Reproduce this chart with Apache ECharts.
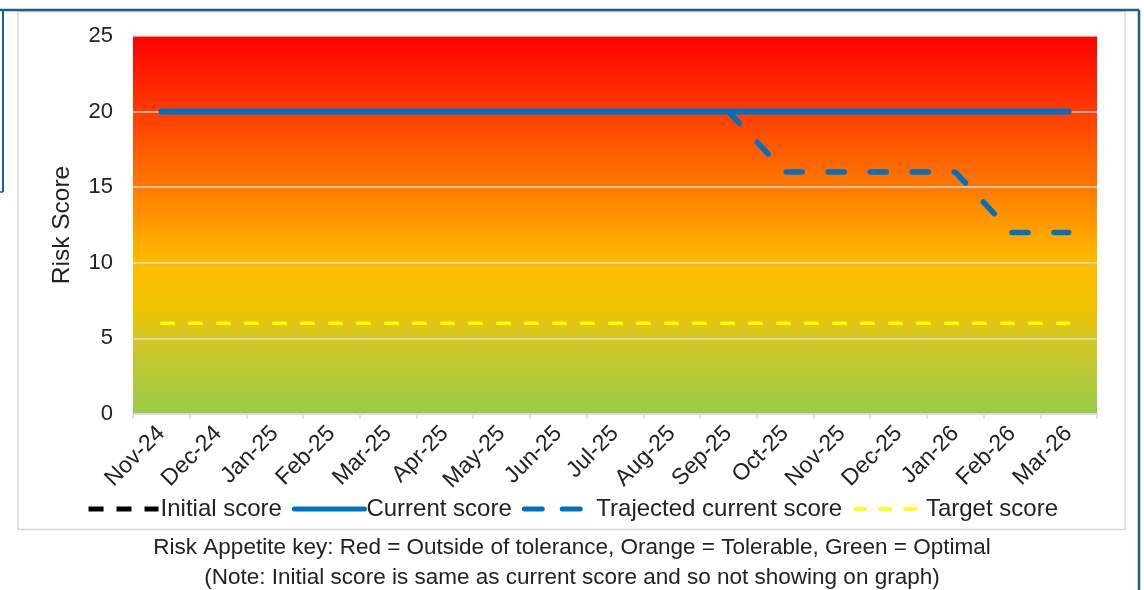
<!DOCTYPE html>
<html>
<head>
<meta charset="utf-8">
<script src="https://cdn.jsdelivr.net/npm/echarts@6/dist/echarts.min.js"></script>
<style>
html,body{margin:0;padding:0;background:#fff;}
#c{width:1144px;height:590px;}
</style>
</head>
<body>
<div id="c"></div>
<script>
var categories = ['Nov-24','Dec-24','Jan-25','Feb-25','Mar-25','Apr-25','May-25','Jun-25','Jul-25','Aug-25','Sep-25','Oct-25','Nov-25','Dec-25','Jan-26','Feb-26','Mar-26'];
var initialScore = [20,20,20,20,20,20,20,20,20,20,20,20,20,20,20,20,20];
var currentScore = [20,20,20,20,20,20,20,20,20,20,20,20,20,20,20,20,20];
var trajectedScore = [null,null,null,null,null,null,null,null,null,null,20,16,16,16,16,12,12];
var targetScore = [6,6,6,6,6,6,6,6,6,6,6,6,6,6,6,6,6];
var yTicks = [0,5,10,15,20,25];
var noteLines = ['Risk Appetite key: Red = Outside of tolerance, Orange = Tolerable, Green = Optimal',
                 '(Note: Initial score is same as current score and so not showing on graph)'];

var chart = echarts.init(document.getElementById('c'));
var font = '"Liberation Sans", Arial, sans-serif';
var frame = '#1d5f86';
chart.setOption({
  animation: false,
  backgroundColor: '#fff',
  grid: {
    left: 133, right: 47, top: 36, bottom: 176,
    show: true, borderWidth: 0,
    backgroundColor: {
      type: 'linear', x: 0, y: 0, x2: 0, y2: 1,
      colorStops: [
        {offset: 0, color: '#ff0000'},
        {offset: 0.2, color: '#ff3c00'},
        {offset: 0.4, color: '#ff7a00'},
        {offset: 0.6, color: '#ffbc00'},
        {offset: 0.72, color: '#f0c300'},
        {offset: 0.82, color: '#cdc72a'},
        {offset: 1, color: '#98cc48'}
      ]
    }
  },
  legend: {
    bottom: 64, left: 'center',
    itemWidth: 70, itemHeight: 14, itemGap: 10,
    itemStyle: {opacity: 0},
    textStyle: {fontFamily: font, fontSize: 24, color: '#222', padding: [0,0,0,-3]},
    data: [
      {name: 'Initial score', lineStyle: {color: '#000', width: 5, type: [15, 13], cap: 'butt'}},
      {name: 'Current score', lineStyle: {color: '#0070c0', width: 5, type: 'solid', cap: 'round'}},
      {name: 'Trajected current score', lineStyle: {color: '#0070c0', width: 5, type: [18, 20], cap: 'round'}},
      {name: 'Target score', lineStyle: {color: '#ffff00', width: 3.5, type: [13, 12], cap: 'butt'}}
    ]
  },
  xAxis: {
    type: 'category', data: categories, boundaryGap: true,
    axisLine: {lineStyle: {color: '#d9d9d9', width: 1.5}},
    axisTick: {show: true, length: 5, lineStyle: {color: '#d9d9d9', width: 1.5}},
    axisLabel: {rotate: 45, fontFamily: font, fontSize: 23, color: '#222', margin: 16, interval: 0}
  },
  yAxis: {
    type: 'value', min: 0, max: 25, interval: 5,
    name: 'Risk Score', nameLocation: 'middle', nameGap: 58,
    nameTextStyle: {fontFamily: font, fontSize: 24.5, color: '#222'},
    axisLine: {show: false}, axisTick: {show: false},
    axisLabel: {fontFamily: font, fontSize: 22, color: '#222', margin: 20,
      formatter: function(v){ return yTicks.indexOf(v) >= 0 ? String(v) : ''; }},
    splitLine: {lineStyle: {color: 'rgba(225,225,225,0.9)', width: 1.5}}
  },
  series: [
    {name: 'Initial score', type: 'line', data: initialScore, symbol: 'none', z: 2,
     lineStyle: {color: '#000', width: 4.5, type: [14, 18], cap: 'butt'}, itemStyle: {color: '#000'}},
    {name: 'Current score', type: 'line', data: currentScore, symbol: 'none', z: 3,
     lineStyle: {color: '#0070c0', width: 6, cap: 'round'}, itemStyle: {color: '#0070c0'}},
    {name: 'Trajected current score', type: 'line', data: trajectedScore, symbol: 'none', z: 4,
     lineStyle: {color: '#0070c0', width: 5.5, type: [16, 26], cap: 'round'}, itemStyle: {color: '#0070c0'}},
    {name: 'Target score', type: 'line', data: targetScore, symbol: 'none', z: 4,
     lineStyle: {color: '#ffff00', width: 3.5, type: [12, 16], cap: 'round'}, itemStyle: {color: '#ffff00'}}
  ],
  graphic: [
    {type: 'rect', shape: {x: 18, y: 11.5, width: 1107, height: 518}, style: {fill: 'none', stroke: '#d9d9d9', lineWidth: 1.5}, z: 0, silent: true},
    {type: 'line', shape: {x1: 0, y1: 10, x2: 1139, y2: 10}, style: {stroke: frame, lineWidth: 2.5}},
    {type: 'line', shape: {x1: 3, y1: 10, x2: 3, y2: 192}, style: {stroke: frame, lineWidth: 2}},
    {type: 'line', shape: {x1: 0, y1: 192, x2: 3, y2: 192}, style: {stroke: frame, lineWidth: 1.5}},
    {type: 'line', shape: {x1: 1139, y1: 10, x2: 1139, y2: 590}, style: {stroke: frame, lineWidth: 2.5}},
    {type: 'text', left: 'center', top: 536, style: {text: noteLines[0], font: '22.5px "Liberation Sans", Arial, sans-serif', fill: '#222'}},
    {type: 'text', left: 'center', top: 566, style: {text: noteLines[1], font: '22.5px "Liberation Sans", Arial, sans-serif', fill: '#222'}}
  ]
});
</script>
</body>
</html>
